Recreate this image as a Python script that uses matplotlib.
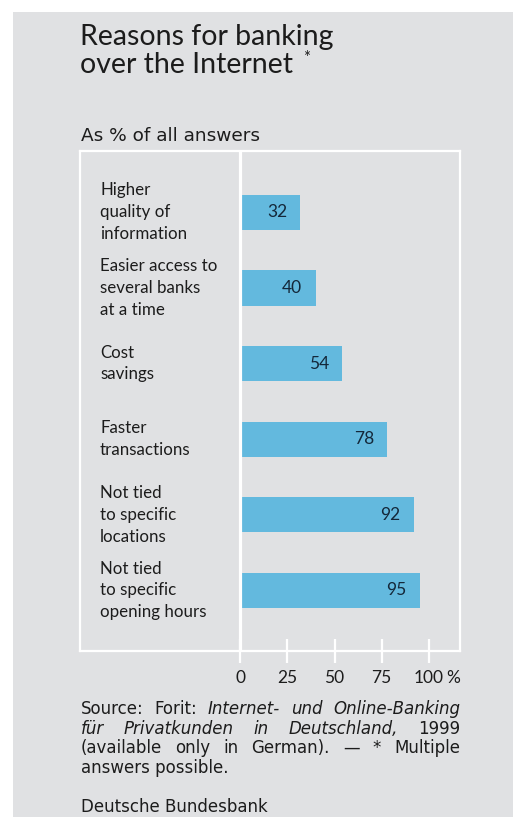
"""
Reasons for banking over the Internet (Bundesbank chart, Forit survey 1999).
Writes: out.png
"""
import matplotlib
matplotlib.use("Agg")
import matplotlib.pyplot as plt
from matplotlib.patches import Rectangle

W, H = 513, 817
PANEL = "#e0e1e3"
BAR = "#63b9de"
TEXT = "#1c1c1c"
NUM = "#14283a"
FONT = "Lato"
WIDE = "DejaVu Sans"

categories = [
    "Higher\nquality of\ninformation",
    "Easier access to\nseveral banks\nat a time",
    "Cost\nsavings",
    "Faster\ntransactions",
    "Not tied\nto specific\nlocations",
    "Not tied\nto specific\nopening hours",
]
values = [32, 40, 54, 78, 92, 95]
xticks = [0, 25, 50, 75, 100]
xtick_labels = ["0", "25", "50", "75", "100"]

title_lines = ["Reasons for banking", "over the Internet"]
subtitle = "As % of all answers"
source_lines = [
    [("Source:", "normal"), ("Forit:", "normal"), ("Internet-", "italic"),
     ("und", "italic"), ("Online-Banking", "italic")],
    [("für", "italic"), ("Privatkunden", "italic"), ("in", "italic"),
     ("Deutschland,", "italic"), ("1999", "normal")],
    [("(available", "normal"), ("only", "normal"), ("in", "normal"),
     ("German).", "normal"), ("—", "normal"), ("*", "normal"), ("Multiple", "normal")],
]
source_last = "answers possible."
publisher = "Deutsche Bundesbank"

plt.rcParams["font.family"] = [FONT, "DejaVu Sans"]


def fx(px):
    return px / W


def fy(py):
    return 1 - py / H


def justify(fig, words, x0, x1, y, size):
    renderer = fig.canvas.get_renderer()
    arts = [fig.text(fx(x0), fy(y), w, fontsize=size, style=s, color=TEXT,
                     va="baseline", ha="left", family=WIDE) for w, s in words]
    widths = [a.get_window_extent(renderer).width for a in arts]
    gap = (x1 - x0 - sum(widths)) / (len(arts) - 1)
    x = x0
    for a, w in zip(arts, widths):
        a.set_x(fx(x))
        x += w + gap


fig = plt.figure(figsize=(W / 100, H / 100), dpi=100)
fig.patch.set_facecolor("white")
fig.add_artist(Rectangle((fx(13), 0), 1 - fx(13), fy(12), transform=fig.transFigure,
                         facecolor=PANEL, edgecolor="none", zorder=0))

# plot frame: 80..460 px wide, 151..651 px high; 0 at 240 px, 100 at 429 px
left, right, top, bottom = 80, 460, 151, 651
ax = fig.add_axes([fx(left), fy(bottom), (right - left) / W, (bottom - top) / H])
ax.set_facecolor("none")
ppu = (429 - 240) / 100
ax.set_xlim((left - 240) / ppu, (right - 240) / ppu)
ax.set_ylim(len(values) - 0.2, -0.81)

ypos = list(range(len(values)))
ax.barh(ypos, values, height=0.465, color=BAR, edgecolor="none", zorder=2)
ax.axvline(0, color="white", lw=2.3, zorder=3)

for y, v in zip(ypos, values):
    ax.annotate(str(v), (v, y), xytext=(-9.5, 0), textcoords="offset points",
                ha="right", va="center", fontsize=12.5, color=NUM, zorder=4)

lab_x = (100 - 240) / ppu
for y, c in zip(ypos, categories):
    ax.text(lab_x, y, c, ha="left", va="center", fontsize=12.2, color=TEXT,
            linespacing=1.45)

for s in ax.spines.values():
    s.set_color("white")
    s.set_linewidth(1.6)
ax.set_yticks([])
ax.set_xticks(xticks)
ax.set_xticklabels(xtick_labels)
ax.tick_params(axis="x", direction="inout", length=17.5, width=1.6, color="white",
               labelsize=12.5, labelcolor=TEXT, pad=5)
fig.text(fx(446), fy(683), "%", fontsize=12.5, color=TEXT, ha="left", va="baseline")

fig.text(fx(80), fy(45), title_lines[0], fontsize=20.5, color=TEXT, va="baseline")
fig.text(fx(80), fy(73), title_lines[1], fontsize=20.5, color=TEXT, va="baseline")
fig.text(fx(303), fy(63), "*", fontsize=12, color=TEXT, va="baseline")
fig.text(fx(81), fy(141), subtitle, fontsize=13.3, color=TEXT, va="baseline", family=WIDE)

src_size = 12
for i, words in enumerate(source_lines):
    justify(fig, words, 81, 460, 714 + i * 19.6, src_size)
fig.text(fx(81), fy(714 + 3 * 19.6), source_last, fontsize=src_size, color=TEXT,
         va="baseline", family=WIDE)
fig.text(fx(81), fy(812), publisher, fontsize=src_size, color=TEXT, va="baseline",
         family=WIDE)

fig.savefig("out.png", dpi=100, facecolor=fig.get_facecolor())
